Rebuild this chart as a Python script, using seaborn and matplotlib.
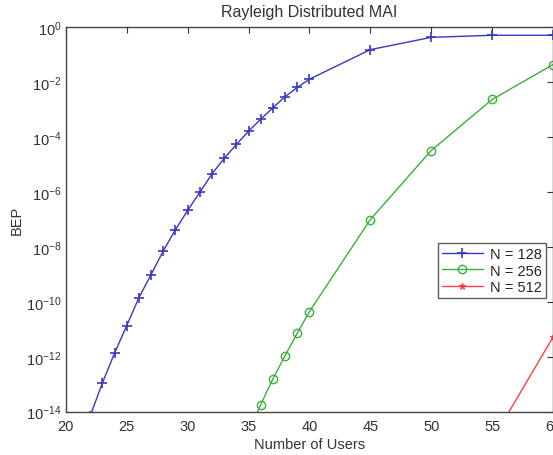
import numpy as np
import pandas as pd
import seaborn as sns
import matplotlib.pyplot as plt
from matplotlib.ticker import FixedLocator, NullLocator

# Number of users and bit error probability for each spreading length
users_128 = [22, 23, 24, 25, 26, 27, 28, 29, 30, 31, 32, 33, 34, 35, 36, 37, 38, 39, 40, 45, 50, 55, 60]
bep_128 = [7e-15, 1.1e-13, 1.35e-12, 1.35e-11, 1.4e-10, 9.8e-10, 7.1e-9, 4.2e-8, 2.1e-7,
           9.6e-7, 4.5e-6, 1.65e-5, 5.3e-5, 1.6e-4, 4.4e-4, 1.15e-3, 2.9e-3, 6.3e-3,
           1.26e-2, 1.5e-1, 4.2e-1, 5.0e-1, 5.0e-1]

users_256 = [35, 36, 37, 38, 39, 40, 45, 50, 55, 60]
bep_256 = [1.8e-15, 1.8e-14, 1.55e-13, 1.1e-12, 7.2e-12, 4.4e-11, 9.8e-8, 3.2e-5, 2.3e-3, 4.3e-2]

users_512 = [55, 60]
bep_512 = [9e-16, 5.2e-12]

labels = ['N = 128', 'N = 256', 'N = 512']
ytick_exp = [0, -2, -4, -6, -8, -10, -12, -14]
xticks = [20, 25, 30, 35, 40, 45, 50, 55, 60]

blue, green, red = '#3838c0', '#3cb03c', '#ff4040'

sns.set_style('white')
plt.rcParams['font.family'] = ['Liberation Sans', 'DejaVu Sans']
plt.rcParams['mathtext.default'] = 'regular'

fig = plt.figure(figsize=(5.53, 4.56), dpi=100)
ax = fig.add_axes([0.119, 0.095, 0.881, 0.8436])

df1 = pd.DataFrame({'users': users_128, 'bep': bep_128})
df2 = pd.DataFrame({'users': users_256, 'bep': bep_256})
df3 = pd.DataFrame({'users': users_512, 'bep': bep_512})

sns.lineplot(data=df1, x='users', y='bep', ax=ax, color=blue, marker='+',
             markersize=6.5, markeredgecolor=blue, markeredgewidth=1.2, linewidth=1,
             label=labels[0])
sns.lineplot(data=df2, x='users', y='bep', ax=ax, color=green, marker='o',
             markersize=6, markerfacecolor='none', markeredgecolor=green,
             markeredgewidth=1, linewidth=1, label=labels[1])
sns.lineplot(data=df3, x='users', y='bep', ax=ax, color=red, marker='*',
             markersize=5, markeredgecolor=red, markeredgewidth=0.8, linewidth=1,
             label=labels[2])

ax.set_yscale('log')
ax.set_xlim(20, 60)
ax.set_ylim(1e-14, 1)
ax.yaxis.set_major_locator(FixedLocator([10.0 ** e for e in ytick_exp]))
ax.yaxis.set_minor_locator(NullLocator())
ax.set_xticks(xticks)

ax.tick_params(axis='both', which='major', direction='in', length=4, width=0.8,
               top=True, right=True, labelsize=10.5, colors='#333333')
ax.tick_params(axis='y', pad=3)
ax.tick_params(axis='x', pad=5)
for s in ax.spines.values():
    s.set_color('#444444')
    s.set_linewidth(1)

ax.set_title('Rayleigh Distributed MAI', fontsize=11.5, color='#333333', pad=8)
ax.set_xlabel('Number of Users', fontsize=10.5, color='#333333', labelpad=3)
ax.set_ylabel('BEP', fontsize=10.5, color='#333333', labelpad=2)

leg = ax.legend(loc='upper left', bbox_to_anchor=(0.763, 0.4385), fontsize=10.5,
                frameon=True, fancybox=False, borderaxespad=0, handlelength=2.8,
                labelspacing=0.15, borderpad=0.3, handletextpad=0.5)
leg.get_frame().set_edgecolor('#333333')
leg.get_frame().set_linewidth(1)

fig.savefig('out.png', dpi=100)
